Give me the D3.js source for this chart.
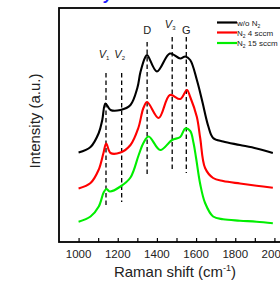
<!DOCTYPE html>
<html lang="en">
<head>
<meta charset="UTF-8">
<title>Raman spectra</title>
<script src="https://cdnjs.cloudflare.com/ajax/libs/d3/7.8.5/d3.min.js"></script>
<style>
    body { margin: 0; background: #fff; font-family: "Liberation Sans", Arial, sans-serif; }
</style>
</head>
<body>
<div id="chart"></div>
<script>

    // Raman shift (cm-1) sample points and intensities (a.u., offset per curve)
    const shiftBlack = [1000, 1061, 1103, 1121, 1137, 1163, 1214, 1265, 1300, 1316, 1341, 1350, 1400, 1466, 1519, 1545, 1570, 1604, 1630, 1662, 1687, 1738, 1824, 1909, 1992];
    const intBlack   = [89.5, 95, 109, 122, 138.5, 132, 132, 137, 154, 170, 185, 187, 170.5, 188.5, 183.5, 185.5, 182, 162, 142, 116, 104, 100.5, 97, 93.5, 89];

    const shiftRed = [1000, 1061, 1102, 1127, 1141, 1163, 1214, 1265, 1305, 1331, 1350, 1409, 1466, 1519, 1553, 1570, 1604, 1621, 1646, 1687, 1738, 1824, 1909, 1992];
    const intRed   = [53.5, 59, 72, 89, 98.5, 89, 89.5, 97, 114, 134, 140, 124, 147, 143, 152, 145, 125, 104, 74, 64, 61, 58.5, 56.3, 54.3];

    const shiftGreen = [1000, 1061, 1103, 1129, 1142, 1159, 1214, 1265, 1307, 1331, 1358, 1417, 1477, 1519, 1545, 1570, 1587, 1600, 1621, 1646, 1687, 1738, 1824, 1909, 1992];
    const intGreen   = [20.3, 25.5, 35.5, 50, 53, 50.5, 55.5, 64.5, 87, 99, 105.5, 92, 102, 105, 113.5, 111, 99, 84, 58, 39, 25.5, 22.7, 21.3, 20.3, 18.7];

    const seriesNames  = ['w/o N|2', 'N|2| 4 sccm', 'N|2| 15 sccm'];
    const seriesColors = ['#000000', '#ff0000', '#00ee00'];

    // peak markers: label, subscript, position, top and bottom of dashed line (intensity)
    const peakLabels = ['V', 'V', 'D', 'V', 'G'];
    const peakSubs   = ['1', '2', '', '3', ''];
    const peakShift  = [1140, 1220, 1350, 1478, 1550];
    const peakTop    = [169, 169, 200, 205, 205];
    const peakBottom = [37, 40, 67, 72, 69];
    const peakText   = [184, 184, 208, 214, 208];

    const xTicks = [1000, 1200, 1400, 1600, 1800, 2000];

    const width = 280, height = 281;
    const margin = { left: 59, top: 8, bottom: 39 };

    const svg = d3.select('#chart').append('svg')
        .attr('width', width)
        .attr('height', height);

    const x = d3.scaleLinear().domain([900, 2100]).range([margin.left, margin.left + 235]);
    const y = d3.scaleLinear().domain([0, 234]).range([height - margin.bottom, margin.top]);

    // cut-off blue title glyph at the very top
    svg.append('text')
        .attr('x', 104).attr('y', 0)
        .attr('fill', '#1a1aff')
        .attr('font-size', 16)
        .attr('font-style', 'italic')
        .attr('font-weight', 'bold')
        .text('y');

    // frame
    svg.append('rect')
        .attr('x', x(900)).attr('y', y(234))
        .attr('width', x(2100) - x(900))
        .attr('height', y(0) - y(234))
        .attr('fill', 'none')
        .attr('stroke', '#000')
        .attr('stroke-width', 1.8);

    // inward ticks on the bottom axis
    const xAxis = d3.axisTop(x)
        .tickValues(d3.range(1000, 2001, 100))
        .tickSize(4)
        .tickFormat('');
    const gx = svg.append('g')
        .attr('transform', `translate(0,${y(0)})`)
        .call(xAxis);
    gx.select('.domain').remove();
    gx.selectAll('.tick line').attr('stroke', '#000').attr('stroke-width', 1.2);

    svg.append('g').selectAll('text')
        .data(xTicks)
        .join('text')
        .attr('x', d => x(d))
        .attr('y', 258)
        .attr('text-anchor', 'middle')
        .attr('font-size', 11.5)
        .attr('fill', '#222')
        .text(d => d);

    // axis titles
    const xt = svg.append('text')
        .attr('x', 175).attr('y', 277)
        .attr('text-anchor', 'middle')
        .attr('font-size', 15)
        .attr('fill', '#222');
    xt.append('tspan').text('Raman shift (cm');
    xt.append('tspan').attr('font-size', 9).attr('dy', -6).text('-1');
    xt.append('tspan').attr('dy', 6).text(')');

    svg.append('text')
        .attr('transform', 'translate(40,121) rotate(-90)')
        .attr('text-anchor', 'middle')
        .attr('font-size', 15)
        .attr('fill', '#222')
        .text('Intensity (a.u.)');

    // dashed peak markers
    svg.append('g').selectAll('line')
        .data(peakShift)
        .join('line')
        .attr('x1', d => x(d)).attr('x2', d => x(d))
        .attr('y1', (d, i) => y(peakTop[i]))
        .attr('y2', (d, i) => y(peakBottom[i]))
        .attr('stroke', '#000')
        .attr('stroke-width', 1.3)
        .attr('stroke-dasharray', '4.5,3');

    const pl = svg.append('g').selectAll('text')
        .data(peakShift)
        .join('text')
        .attr('x', (d, i) => x(d) - (peakSubs[i] ? 2 : 0))
        .attr('y', (d, i) => y(peakText[i]))
        .attr('text-anchor', 'middle')
        .attr('font-size', 11)
        .attr('fill', '#222')
        .attr('font-style', (d, i) => peakSubs[i] ? 'italic' : 'normal');
    pl.append('tspan').text((d, i) => peakLabels[i]);
    pl.append('tspan')
        .attr('font-size', 6)
        .attr('dy', 2)
        .attr('font-style', 'normal')
        .text((d, i) => peakSubs[i]);

    // spectra
    const line = d3.line()
        .x(d => x(d[0]))
        .y(d => y(d[1]))
        .curve(d3.curveCatmullRom.alpha(0.5));

    const series = [
        d3.zip(shiftBlack, intBlack),
        d3.zip(shiftRed, intRed),
        d3.zip(shiftGreen, intGreen)
    ];

    svg.append('g').selectAll('path')
        .data(series)
        .join('path')
        .attr('d', line)
        .attr('fill', 'none')
        .attr('stroke', (d, i) => seriesColors[i])
        .attr('stroke-width', 2.1)
        .attr('stroke-linejoin', 'round');

    // legend
    const legend = svg.append('g');
    const legendY = [22.5, 32.5, 43];
    seriesNames.forEach((name, i) => {
        legend.append('line')
            .attr('x1', 217).attr('x2', 237)
            .attr('y1', legendY[i]).attr('y2', legendY[i])
            .attr('stroke', seriesColors[i])
            .attr('stroke-width', 2.2);
        const t = legend.append('text')
            .attr('x', 237).attr('y', legendY[i] + 3)
            .attr('font-size', 8)
            .attr('fill', '#222');
        name.split('|').forEach((part, j) => {
            const s = t.append('tspan').text(part);
            if (j === 1) s.attr('font-size', 5).attr('dy', 2);
            if (j === 2) s.attr('dy', -2);
        });
    });

</script>
</body>
</html>
